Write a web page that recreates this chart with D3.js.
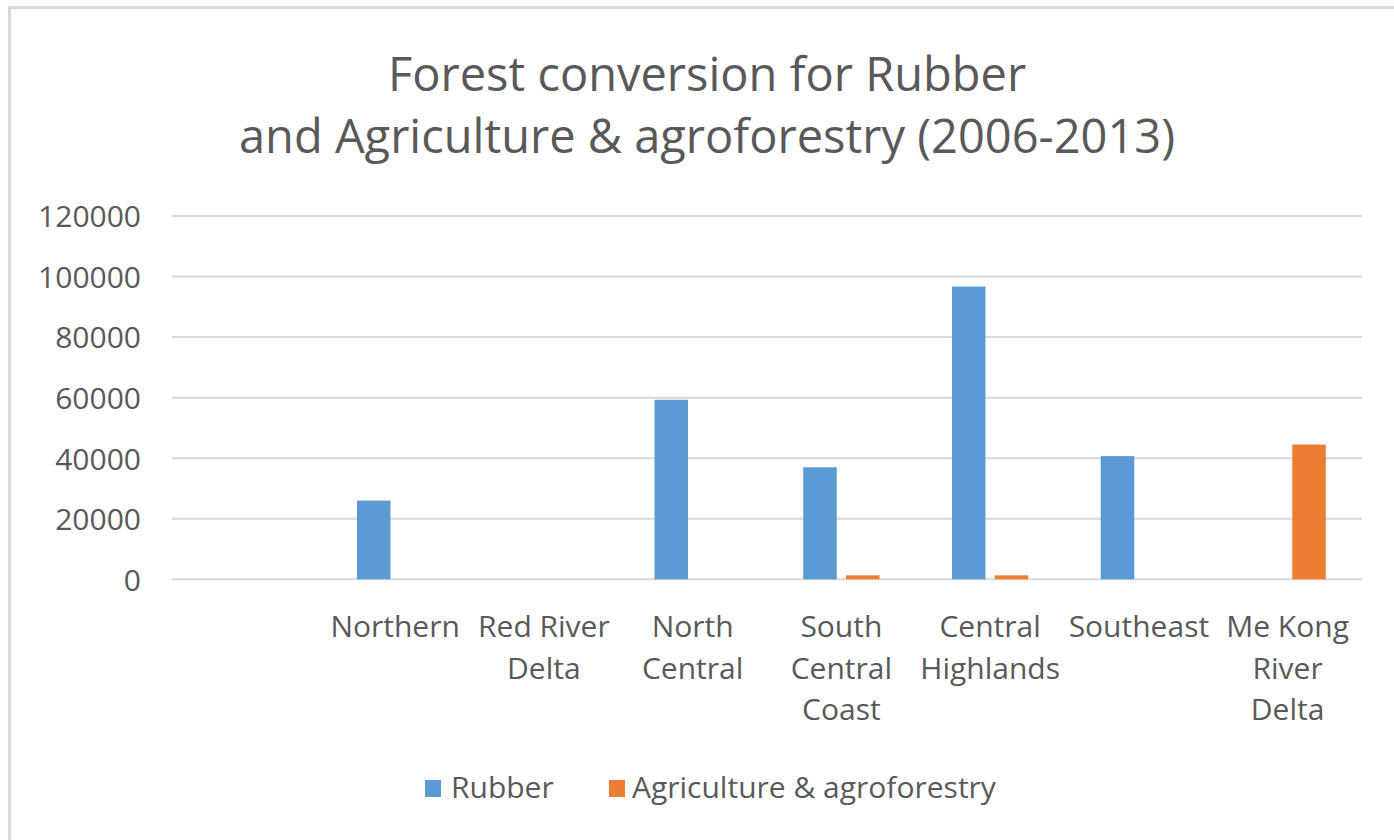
<!DOCTYPE html>
<html>
<head>
<meta charset="utf-8">
<script src="https://cdn.jsdelivr.net/npm/d3@7/dist/d3.min.js"></script>
<style>
  html, body { margin: 0; padding: 0; background: #ffffff; }
  svg { display: block; font-family: "Open Sans", Lato, sans-serif; }
</style>
</head>
<body>
<svg id="chart" width="1394" height="840"></svg>
<script>
// Regions (first slot is an unlabeled category)
const categories = ["", "Northern", "Red River Delta", "North Central", "South Central Coast",
                    "Central Highlands", "Southeast", "Me Kong River Delta"];
// Wrapped label lines per category
const categoryLines = [[], ["Northern"], ["Red River", "Delta"], ["North", "Central"],
                       ["South", "Central", "Coast"], ["Central", "Highlands"], ["Southeast"],
                       ["Me Kong", "River", "Delta"]];
const seriesNames = ["Rubber", "Agriculture & agroforestry"];
const rubber = [0, 26000, 0, 59300, 37000, 96700, 40700, 0];
const agriculture = [0, 0, 0, 0, 1300, 1300, 0, 44500];
const yTicks = [0, 20000, 40000, 60000, 80000, 100000, 120000];
const titleLines = ["Forest conversion for Rubber", "and Agriculture & agroforestry (2006-2013)"];

const colors = { "Rubber": "#5B9BD5", "Agriculture & agroforestry": "#ED7D31" };
const textColor = "#595959";
const fontFamily = "'Open Sans', Lato, sans-serif";

const svg = d3.select("#chart");

// chart frame
svg.append("rect")
  .attr("x", 9.5).attr("y", 7.5)
  .attr("width", 1400).attr("height", 850)
  .attr("fill", "#ffffff")
  .attr("stroke", "#d9d9d9").attr("stroke-width", 3);

const plot = { left: 172, right: 1362, top: 216, bottom: 579.3 };

const y = d3.scaleLinear().domain([0, 120000]).range([plot.bottom, plot.top]);
const x0 = d3.scaleBand().domain(categories).range([plot.left, plot.right])
  .paddingInner(0.487).paddingOuter(0.2435);
const x1 = d3.scaleBand().domain(seriesNames).range([0, x0.bandwidth()])
  .paddingInner(0.217).paddingOuter(0);

// title
svg.append("g").selectAll("text").data(titleLines).join("text")
  .attr("x", 707).attr("y", (d, i) => 91 + i * 62)
  .attr("text-anchor", "middle")
  .attr("font-size", 47).attr("fill", textColor)
  .text(d => d);

// gridlines
svg.append("g").selectAll("line").data(yTicks).join("line")
  .attr("x1", plot.left).attr("x2", plot.right)
  .attr("y1", d => y(d)).attr("y2", d => y(d))
  .attr("stroke", "#d9d9d9").attr("stroke-width", 2);

// y axis labels
const yAxis = svg.append("g")
  .attr("transform", `translate(${plot.left - 31},0)`)
  .call(d3.axisLeft(y).tickValues(yTicks).tickSize(0).tickPadding(0).tickFormat(d3.format("d")));
yAxis.select(".domain").remove();
yAxis.selectAll("text")
  .attr("font-family", fontFamily)
  .attr("font-size", 30).attr("fill", textColor)
  .attr("dy", "0.36em");

// bars
const data = categories.map((c, i) => ({
  cat: c,
  values: [{ key: "Rubber", v: rubber[i] }, { key: "Agriculture & agroforestry", v: agriculture[i] }]
}));

const groups = svg.append("g").selectAll("g").data(data).join("g")
  .attr("transform", d => `translate(${x0(d.cat)},0)`);
groups.selectAll("rect").data(d => d.values.filter(v => v.v > 0)).join("rect")
  .attr("x", d => x1(d.key))
  .attr("width", x1.bandwidth())
  .attr("y", d => y(d.v))
  .attr("height", d => y(0) - y(d.v))
  .attr("fill", d => colors[d.key]);

// category labels
const labelG = svg.append("g").selectAll("text").data(categories).join("text")
  .attr("text-anchor", "middle")
  .attr("font-size", 30).attr("fill", textColor)
  .attr("x", d => x0(d) + x0.bandwidth() / 2);
labelG.each(function(d, i) {
  const t = d3.select(this);
  const cx = x0(d) + x0.bandwidth() / 2;
  categoryLines[i].forEach((line, j) => {
    t.append("tspan").attr("x", cx).attr("y", 637 + j * 41.5).text(line);
  });
});

// legend
const legendItems = [
  { key: "Rubber", sx: 425, tx: 451 },
  { key: "Agriculture & agroforestry", sx: 609, tx: 632 }
];
const lg = svg.append("g");
lg.selectAll("rect").data(legendItems).join("rect")
  .attr("x", d => d.sx).attr("y", 780)
  .attr("width", 16).attr("height", 17)
  .attr("fill", d => colors[d.key]);
lg.selectAll("text").data(legendItems).join("text")
  .attr("x", d => d.tx).attr("y", 798)
  .attr("font-size", 30).attr("fill", textColor)
  .text(d => d.key);
</script>
</body>
</html>
